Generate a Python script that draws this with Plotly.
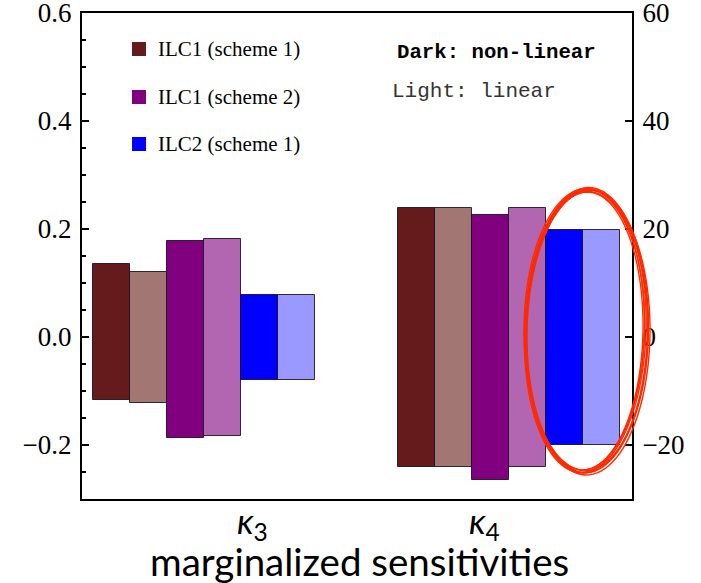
import numpy as np
import plotly.graph_objects as go

# ---------------- data ----------------
CATEGORIES = ["κ<sub>3</sub>", "κ<sub>4</sub>"]
SERIES = ["ILC1 (scheme 1) non-linear", "ILC1 (scheme 1) linear",
          "ILC1 (scheme 2) non-linear", "ILC1 (scheme 2) linear",
          "ILC2 (scheme 1) non-linear", "ILC2 (scheme 1) linear"]
K3_UPPER = [0.135, 0.120, 0.178, 0.181, 0.078, 0.077]
K3_LOWER = [-0.116, -0.122, -0.187, -0.183, -0.080, -0.080]
K4_UPPER = [23.9, 23.9, 22.6, 23.9, 19.9, 19.8]
K4_LOWER = [-24.1, -24.1, -26.5, -24.1, -20.0, -20.0]
LEGEND_LABELS = ["ILC1 (scheme 1)", "ILC1 (scheme 2)", "ILC2 (scheme 1)"]
LEFT_TICKS = [-0.2, 0.0, 0.2, 0.4, 0.6]
RIGHT_TICKS = [-20, 0, 20, 40, 60]

# ---------------- style ----------------
COLORS = ["#651a1c", "#a27672", "#800080", "#b266b2", "#0000ff", "#9999ff"]
LEGEND_COLORS = ["#651a1c", "#800080", "#0000ff"]
GROUP_CENTERS = [3.3, 11.55]
W, H = 701, 583
L, R, T, B = 82, 632, 13, 499


def px(x):
    return (x - L) / (R - L)


def py(y):
    return (B - y) / (B - T)


fig = go.Figure()
groups = [(K3_UPPER, K3_LOWER, "y"), (K4_UPPER, K4_LOWER, "y2")]
for g, (up, lo, ax) in enumerate(groups):
    for i, name in enumerate(SERIES):
        fig.add_trace(go.Bar(
            x=[GROUP_CENTERS[g] + (i - 2.5)],
            y=[up[i] - lo[i]], base=[lo[i]],
            width=1, yaxis=ax, name=name, showlegend=False,
            marker=dict(color=COLORS[i], line=dict(color="rgba(20,10,30,0.85)", width=1)),
        ))

tickfont = dict(family="Liberation Serif", size=27, color="black")
fig.update_layout(
    width=W, height=H,
    margin=dict(l=L, r=W - R, t=T, b=H - B, autoexpand=False),
    paper_bgcolor="white", plot_bgcolor="white",
    barmode="overlay", bargap=0,
    xaxis=dict(range=[0, (R - L) / 37.0], showticklabels=False, ticks="",
               showline=True, mirror=True, linecolor="black", linewidth=2,
               showgrid=False, zeroline=False, automargin=False),
    yaxis=dict(range=[-0.3, 0.6], tickmode="array", tickvals=LEFT_TICKS,
               ticktext=[f"{v:.1f}".replace("-", "\u2212") for v in LEFT_TICKS],
               ticks="inside", ticklen=7, tickwidth=1.5, tickcolor="black",
               minor=dict(dtick=0.05, tick0=0, ticks="inside", ticklen=4,
                          tickwidth=1.5, tickcolor="black"),
               showline=True, linecolor="black", linewidth=2,
               showgrid=False, zeroline=False, tickfont=tickfont,
               ticklabelstandoff=3, automargin=False, ticklabeloverflow="allow"),
    yaxis2=dict(range=[-30, 60], tickmode="array", tickvals=RIGHT_TICKS,
                ticktext=[str(v).replace("-", "\u2212") for v in RIGHT_TICKS],
                overlaying="y", side="right",
                ticks="inside", ticklen=7, tickwidth=1.5, tickcolor="black",
                showline=True, linecolor="black", linewidth=2,
                showgrid=False, zeroline=False, tickfont=tickfont,
                ticklabelstandoff=3, automargin=False, ticklabeloverflow="allow"),
)

shapes = []
annotations = []
# custom legend
for k, (lab, col) in enumerate(zip(LEGEND_LABELS, LEGEND_COLORS)):
    yc = [49, 97, 144][k]
    shapes.append(dict(type="rect", xref="paper", yref="paper",
                       x0=px(132), x1=px(146), y0=py(yc + 7), y1=py(yc - 7),
                       fillcolor=col, line=dict(width=0)))
    annotations.append(dict(xref="paper", yref="paper", x=px(156), y=py(yc),
                            xanchor="left", yanchor="middle", showarrow=False,
                            text=lab, font=dict(family="Liberation Serif",
                                                size=21, color="black")))

annotations.append(dict(xref="paper", yref="paper", x=px(395), y=py(53),
                        xanchor="left", yanchor="middle", showarrow=False,
                        text="<b>Dark: non-linear</b>",
                        font=dict(family="Liberation Mono",
                                  size=20.7, color="black")))
annotations.append(dict(xref="paper", yref="paper", x=px(390), y=py(92),
                        xanchor="left", yanchor="middle", showarrow=False,
                        text="Light: linear",
                        font=dict(family="Liberation Mono",
                                  size=21, color="#333333")))

# category labels
for g, cat in enumerate(CATEGORIES):
    annotations.append(dict(xref="paper", yref="paper", x=px([252, 484][g]), y=py(522),
                            xanchor="center", yanchor="middle", showarrow=False,
                            text="<i>" + cat.replace("<sub>", "</i><sub>"),
                            font=dict(family="Lato", size=35, color="black")))

annotations.append(dict(xref="paper", yref="paper", x=px(359), y=py(561),
                        xanchor="center", yanchor="middle", showarrow=False,
                        text="marginalized sensitivities",
                        font=dict(family="Lato", size=38.5, color="black")))


# hand-drawn red ellipse (decoration)
def ellipse_path(cx, cy, rx, ry, rot):
    t = np.linspace(0, 2 * np.pi, 100)
    a = np.deg2rad(rot)
    xs = cx + rx * np.cos(t) * np.cos(a) - ry * np.sin(t) * np.sin(a)
    ys = cy + rx * np.cos(t) * np.sin(a) + ry * np.sin(t) * np.cos(a)
    pts = [f"{px(x):.5f},{py(y):.5f}" for x, y in zip(xs, ys)]
    return "M" + " L".join(pts) + " Z"


strokes = [(586.5, 331, 61, 142, 1.0), (585.5, 330, 59, 140, 1.5),
           (587.5, 332, 62.5, 143, 0.5), (586, 331.5, 60, 141.5, 2.0),
           (585, 331, 58, 139, 1.2), (587, 330, 61.5, 142.5, 0.8),
           (584.5, 332, 60, 140.5, 1.8), (586, 329.5, 62, 141, 0.3)]
for cx, cy, rx, ry, rot in strokes:
    shapes.append(dict(type="path", xref="paper", yref="paper",
                       path=ellipse_path(cx, cy, rx, ry, rot),
                       line=dict(color="#ff2a00", width=1.4), layer="above"))

fig.update_layout(shapes=shapes, annotations=annotations)
fig.write_html("out.html", config={"displayModeBar": False},
               post_script="document.body.style.margin='0';document.body.style.padding='0';")
